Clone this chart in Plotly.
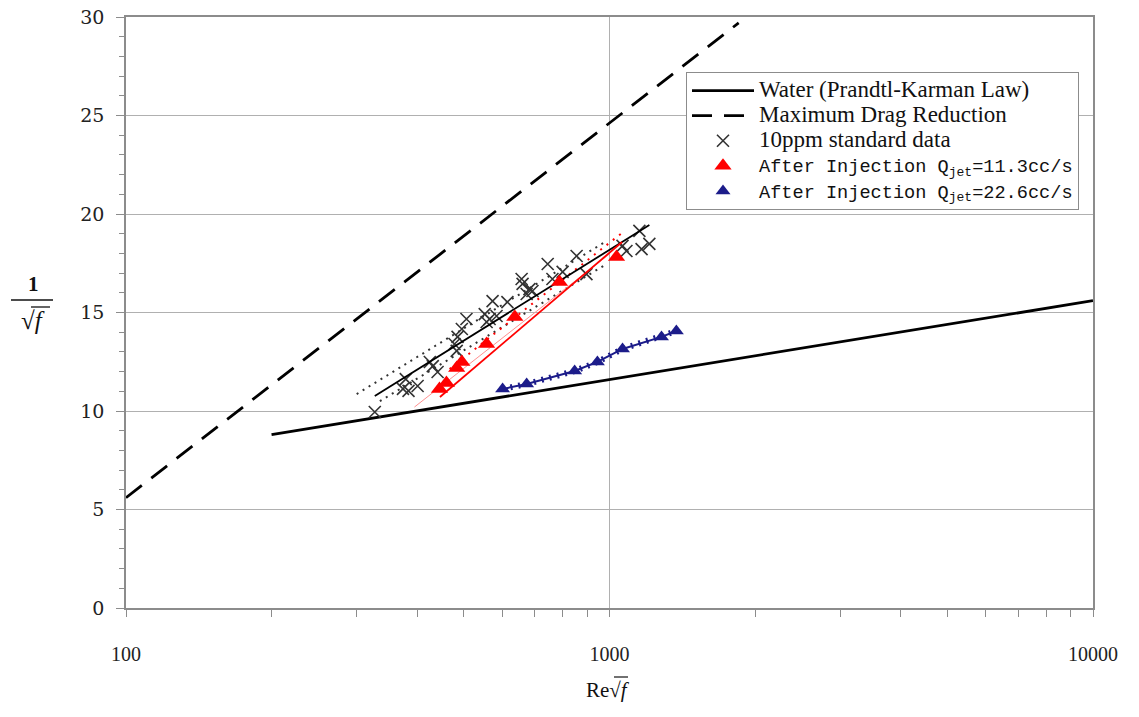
import plotly.graph_objects as go

# ---------------- data ----------------
water_x = [200, 10000]
water_y = [8.8, 15.6]

mdr_x = [100, 1850]
mdr_y = [5.6, 29.7]

std_x = [327, 379, 384, 401, 374, 425, 431, 441, 478, 485, 483, 495, 506, 552, 557,
         573, 565, 584, 615, 658, 661, 674, 683, 693, 745, 762, 800, 855, 896, 1064,
         1084, 1153, 1165, 1209]
std_y = [9.95, 11.62, 11.02, 11.27, 11.12, 12.49, 12.28, 11.98, 13.40, 13.76, 13.05,
         14.16, 14.67, 14.92, 14.52, 15.58, 14.67, 14.82, 15.53, 16.70, 16.45, 15.94,
         16.19, 16.09, 17.46, 16.70, 17.06, 17.87, 16.95, 18.38, 18.12, 19.14, 18.22, 18.48]

red_x = [445, 460, 483, 495, 557, 637, 788, 1034]
red_y = [11.12, 11.42, 12.18, 12.49, 13.40, 14.77, 16.55, 17.82]

blue_x = [601, 674, 847, 944, 1064, 1281, 1375]
blue_y = [11.12, 11.37, 12.03, 12.49, 13.15, 13.76, 14.06]

# fitted / band lines (end points)
std_fit_x = [327, 1209]
std_fit_y = [10.76, 19.44]
std_up_x = [300, 986]
std_up_y = [10.86, 18.63]
std_lo_x = [335, 986]
std_lo_y = [10.5, 17.46]

red_fit_x = [446, 1062]
red_fit_y = [10.71, 18.58]
red_up_x = [467, 1074]
red_up_y = [12.13, 19.14]
red_lo_x = [395, 1000]
red_lo_y = [10.2, 17.97]

SER = "<span style='font-family:Liberation Serif;font-size:23px'>{}</span>"
MONO = "<span style='font-family:Liberation Mono;font-size:18.6px'>{}</span>"
names = [
    SER.format("Water (Prandtl-Karman Law)"),
    SER.format("Maximum Drag Reduction"),
    SER.format("10ppm standard data"),
    MONO.format("After Injection Q<sub>jet</sub>=11.3cc/s"),
    MONO.format("After Injection Q<sub>jet</sub>=22.6cc/s"),
]

x_ticks = [100, 1000, 10000]
x_ticktext = ["100", "1000", "10000"]

# ---------------- figure ----------------
fig = go.Figure()

fig.add_trace(go.Scatter(x=std_up_x, y=std_up_y, mode="lines", showlegend=False,
                         line=dict(color="#333333", width=2, dash="2px,5px")))
fig.add_trace(go.Scatter(x=std_lo_x, y=std_lo_y, mode="lines", showlegend=False,
                         line=dict(color="#333333", width=2, dash="2px,5px")))
fig.add_trace(go.Scatter(x=red_lo_x, y=red_lo_y, mode="lines", showlegend=False,
                         line=dict(color="#ff9090", width=1)))
fig.add_trace(go.Scatter(x=red_up_x, y=red_up_y, mode="lines", showlegend=False,
                         line=dict(color="#ff0000", width=2, dash="2px,6px")))

fig.add_trace(go.Scatter(x=water_x, y=water_y, mode="lines", name=names[0],
                         line=dict(color="black", width=2.8)))
fig.add_trace(go.Scatter(x=mdr_x, y=mdr_y, mode="lines", name=names[1],
                         line=dict(color="black", width=2.8, dash="20px,12px")))
fig.add_trace(go.Scatter(x=std_x, y=std_y, mode="markers", name=names[2],
                         marker=dict(symbol="x-thin", size=12,
                                     line=dict(color="#333333", width=1.6))))
fig.add_trace(go.Scatter(x=std_fit_x, y=std_fit_y, mode="lines", showlegend=False,
                         line=dict(color="black", width=1.8)))
fig.add_trace(go.Scatter(x=red_fit_x, y=red_fit_y, mode="lines", showlegend=False,
                         line=dict(color="#ff0000", width=1.8)))
fig.add_trace(go.Scatter(x=red_x, y=red_y, mode="markers", name=names[3],
                         marker=dict(symbol="triangle-up", size=15, color="#ff0000")))
fig.add_trace(go.Scatter(x=blue_x, y=blue_y, mode="lines", showlegend=False,
                         line=dict(color="#1c1c8a", width=2)))
fig.add_trace(go.Scatter(x=blue_x, y=blue_y, mode="lines", showlegend=False,
                         line=dict(color="#1c1c8a", width=6, dash="2px,6px")))
fig.add_trace(go.Scatter(x=blue_x, y=blue_y, mode="markers", name=names[4],
                         marker=dict(symbol="triangle-up", size=13, color="#1c1c8a")))

axis_line = "#8c8c8c"
grid = "#b0b0b0"

fig.update_xaxes(
    type="log", range=[2, 4], automargin=False,
    tickvals=x_ticks, ticktext=x_ticktext,
    showgrid=True, gridcolor=grid, gridwidth=1,
    showline=True, linecolor=axis_line, linewidth=1.5, mirror=True,
    ticks="outside", ticklen=7, tickcolor=axis_line,
    ticklabelstandoff=20,
    tickfont=dict(family="Liberation Serif", size=20, color="#222"),
    minor=dict(dtick="D1", ticks="outside", ticklen=7, tickcolor=axis_line, showgrid=False),
    zeroline=False,
)
fig.update_yaxes(
    range=[0, 30], dtick=5, automargin=False,
    showgrid=True, gridcolor=grid, gridwidth=1,
    showline=True, linecolor=axis_line, linewidth=1.5, mirror=True,
    ticks="outside", ticklen=8, tickcolor=axis_line,
    ticklabelstandoff=8,
    tickfont=dict(family="DejaVu Serif", size=19, color="#222"),
    minor=dict(dtick=1, ticks="outside", ticklen=5, tickcolor=axis_line, showgrid=False),
    zeroline=False,
)

L, R, T, B = 126, 46, 17, 109
W, H = 1139, 717
pw, ph = W - L - R, H - T - B


def px(xp):
    return (xp - L) / pw


def py(yp):
    return (H - B - yp) / ph


serif = "Liberation Serif"
ann_common = dict(showarrow=False, xref="paper", yref="paper",
                  xanchor="center", yanchor="middle")
annotations = [
    dict(x=px(33), y=py(284), text="<b>1</b>",
         font=dict(family=serif, size=21, color="#111"), **ann_common),
    dict(x=px(33), y=py(320), text="√<i>f</i>",
         font=dict(family=serif, size=25, color="#111"), **ann_common),
    dict(x=px(608), y=py(690), text="Re√<i>f</i>",
         font=dict(family=serif, size=21, color="#111"), **ann_common),
]
shapes = [
    dict(type="line", xref="paper", yref="paper", x0=px(11), x1=px(53), y0=py(300), y1=py(300),
         line=dict(color="#111", width=1.5)),
    dict(type="line", xref="paper", yref="paper", x0=px(31), x1=px(50), y0=py(307), y1=py(307),
         line=dict(color="#111", width=1.3)),
    dict(type="line", xref="paper", yref="paper", x0=px(614), x1=px(628), y0=py(677), y1=py(677),
         line=dict(color="#111", width=1.2)),
]

fig.update_layout(
    width=W, height=H,
    margin=dict(l=L, r=R, t=T, b=B, autoexpand=False),
    paper_bgcolor="white", plot_bgcolor="white",
    showlegend=True,
    legend=dict(
        x=px(686), y=py(72), xanchor="left", yanchor="top",
        bgcolor="white", bordercolor="#8c8c8c", borderwidth=1,
        font=dict(family=serif, size=17, color="#111"),
        itemwidth=62, tracegroupgap=0,
    ),
    annotations=annotations,
    shapes=shapes,
)

fig.write_html("out.html")
